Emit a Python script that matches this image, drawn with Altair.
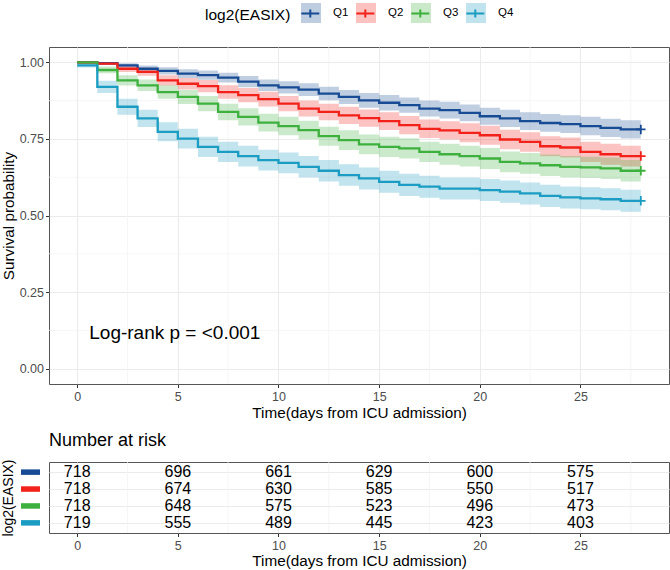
import altair as alt
import pandas as pd

groups = ["Q1", "Q2", "Q3", "Q4"]
colors = ["#174B93", "#F2211A", "#3DB03D", "#1B9CC2"]
days = list(range(29))

surv_q1 = [1.0, 0.997, 0.99, 0.979, 0.972, 0.963, 0.958, 0.95, 0.937, 0.925, 0.918, 0.911, 0.898, 0.887, 0.876,
           0.868, 0.86, 0.849, 0.844, 0.835, 0.824, 0.817, 0.808, 0.802, 0.798, 0.792, 0.786, 0.781, 0.781]
surv_q2 = [1.0, 0.996, 0.979, 0.969, 0.941, 0.93, 0.922, 0.903, 0.893, 0.88, 0.865, 0.849, 0.838, 0.827, 0.818,
           0.808, 0.795, 0.783, 0.778, 0.77, 0.762, 0.748, 0.74, 0.726, 0.722, 0.708, 0.70, 0.694, 0.694]
surv_q3 = [1.0, 0.975, 0.941, 0.925, 0.903, 0.887, 0.865, 0.838, 0.822, 0.803, 0.792, 0.779, 0.759, 0.746, 0.732,
           0.724, 0.719, 0.708, 0.70, 0.694, 0.686, 0.675, 0.67, 0.664, 0.659, 0.657, 0.654, 0.646, 0.646]
surv_q4 = [0.99, 0.92, 0.855, 0.817, 0.773, 0.751, 0.724, 0.708, 0.694, 0.681, 0.672, 0.659, 0.646, 0.632, 0.621,
           0.61, 0.60, 0.594, 0.588, 0.588, 0.583, 0.578, 0.572, 0.564, 0.559, 0.556, 0.553, 0.548, 0.548]

# half-width of the confidence band
ci_q1 = [0.0, 0.004, 0.007, 0.011, 0.012, 0.014, 0.015, 0.016, 0.018, 0.019, 0.020, 0.021, 0.022, 0.023, 0.024,
         0.025, 0.025, 0.026, 0.027, 0.027, 0.028, 0.028, 0.029, 0.029, 0.029, 0.030, 0.030, 0.030, 0.030]
ci_q2 = [0.0, 0.005, 0.011, 0.013, 0.017, 0.019, 0.020, 0.022, 0.023, 0.024, 0.025, 0.026, 0.027, 0.028, 0.028,
         0.029, 0.030, 0.030, 0.030, 0.031, 0.031, 0.032, 0.032, 0.033, 0.033, 0.033, 0.034, 0.034, 0.034]
ci_q3 = [0.0, 0.011, 0.017, 0.019, 0.022, 0.023, 0.025, 0.027, 0.028, 0.029, 0.030, 0.030, 0.031, 0.032, 0.032,
         0.033, 0.033, 0.033, 0.034, 0.034, 0.034, 0.034, 0.034, 0.035, 0.035, 0.035, 0.035, 0.035, 0.035]
ci_q4 = [0.007, 0.020, 0.026, 0.028, 0.031, 0.032, 0.033, 0.033, 0.034, 0.034, 0.034, 0.035, 0.035, 0.035, 0.036,
         0.036, 0.036, 0.036, 0.036, 0.036, 0.036, 0.036, 0.036, 0.036, 0.036, 0.036, 0.036, 0.036, 0.036]

risk_times = [0, 5, 10, 15, 20, 25]
risk_q1 = [718, 696, 661, 629, 600, 575]
risk_q2 = [718, 674, 630, 585, 550, 517]
risk_q3 = [718, 648, 575, 523, 496, 473]
risk_q4 = [719, 555, 489, 445, 423, 403]

major_x = [0, 5, 10, 15, 20, 25]
minor_x = [2.5, 7.5, 12.5, 17.5, 22.5, 27.5]
major_y = [0, 0.25, 0.5, 0.75, 1.0]
minor_y = [0.125, 0.375, 0.625, 0.875]
pval_label = "Log-rank p = <0.001"

FONT = "Liberation Sans"

rows = []
for g, s_arr, c_arr in zip(groups, [surv_q1, surv_q2, surv_q3, surv_q4], [ci_q1, ci_q2, ci_q3, ci_q4]):
    for d, s, c in zip(days, s_arr, c_arr):
        rows.append({"group": g, "day": d, "surv": s, "lower": s - c, "upper": min(1.0, s + c)})
km = pd.DataFrame(rows)

risk_rows = []
for g, arr in zip(groups, [risk_q1, risk_q2, risk_q3, risk_q4]):
    for t, n in zip(risk_times, arr):
        risk_rows.append({"group": g, "time": t, "n": n})
risk = pd.DataFrame(risk_rows)

x_scale = alt.Scale(domain=[-1.4, 29.4], nice=False, zero=False)
y_scale = alt.Scale(domain=[-0.05, 1.05], nice=False, zero=False)
x_axis = alt.Axis(values=major_x, title="Time(days from ICU admission)", labelPadding=3, titlePadding=2,
                  labelFlush=False)
y_axis = alt.Axis(values=major_y, format=".2f", title="Survival probability", labelPadding=2,
                  titleX=-41, titleY=168.5, titleAngle=270, titleAlign="center", titleBaseline="middle")

fill_scale = alt.Scale(domain=groups, range=colors)
# stroke scale takes its domain from the data, so its legend stays separate from the fill legend
stroke_scale = alt.Scale(range=colors)

legend_common = dict(orient="none", legendY=-44, direction="horizontal",
                     labelFontSize=11.5, labelOffset=12, columnPadding=4,
                     symbolSize=324, symbolStrokeWidth=2, padding=0)
fill_legend = alt.Legend(legendX=156, title="log2(EASIX)", titleOrient="left", titleFontSize=15.5,
                         titleFontWeight="normal", titlePadding=10, titleAnchor="middle",
                         titleBaseline="middle", titleColor="black",
                         symbolType="square", symbolOpacity=0.27, symbolStrokeColor="transparent",
                         labelColor="black", zindex=0, **legend_common)
# same entries without a title, shifted by the title's width so the keys sit on the squares
stroke_legend = alt.Legend(legendX=251.3, title=None,
                           symbolType="M-1,0L1,0M0,-0.45L0,0.45", symbolOpacity=1,
                           symbolFillColor="transparent",
                           labelColor="transparent", zindex=1, **legend_common)

grid_x = alt.Chart(pd.DataFrame({"x": minor_x})).mark_rule(color="#F2F2F2", strokeWidth=0.7).encode(
    x=alt.X("x:Q", scale=x_scale, axis=x_axis))
grid_y = alt.Chart(pd.DataFrame({"y": minor_y})).mark_rule(color="#F2F2F2", strokeWidth=0.7).encode(
    y=alt.Y("y:Q", scale=y_scale, axis=y_axis))

base = alt.Chart(km)
band = base.mark_area(interpolate="step-after", opacity=0.27).encode(
    x=alt.X("day:Q", scale=x_scale, axis=x_axis),
    y=alt.Y("lower:Q", scale=y_scale, axis=y_axis),
    y2="upper:Q",
    fill=alt.Fill("group:N", scale=fill_scale, legend=fill_legend),
)
line = base.mark_line(interpolate="step-after", strokeWidth=2.3).encode(
    x=alt.X("day:Q", scale=x_scale, axis=x_axis),
    y=alt.Y("surv:Q", scale=y_scale, axis=y_axis),
    stroke=alt.Stroke("group:N", scale=stroke_scale, legend=stroke_legend),
)
censor = base.transform_filter(alt.datum.day == 28).mark_point(
    shape="M-1,0L1,0M0,-1L0,1", size=90, filled=False, strokeWidth=1.8, opacity=1).encode(
    x=alt.X("day:Q", scale=x_scale, axis=x_axis),
    y=alt.Y("surv:Q", scale=y_scale, axis=y_axis),
    stroke=alt.Stroke("group:N", scale=stroke_scale, legend=stroke_legend),
)
pval = alt.Chart(pd.DataFrame({"label": [pval_label]})).mark_text(
    align="left", baseline="middle", fontSize=19, font=FONT, color="black").encode(
    x=alt.X(datum=0.6, scale=x_scale, axis=x_axis),
    y=alt.Y(datum=0.117, scale=y_scale, axis=y_axis),
    text="label:N",
)

main = alt.layer(grid_x, grid_y, band, line, censor, pval).properties(width=620, height=337)

# risk table
tx_axis = alt.Axis(values=major_x, title="Time(days from ICU admission)", labelPadding=3, titlePadding=1,
                   labelFlush=False)
ty_scale = alt.Scale(type="point", domain=groups, padding=0.6)
ty_axis = alt.Axis(labels=False, ticks=False, grid=True, title="log2(EASIX)", titleFontSize=14,
                   titleX=-41, titleY=35.5, titleAngle=270, titleAlign="center", titleBaseline="middle")

t_grid = alt.Chart(pd.DataFrame({"x": minor_x})).mark_rule(color="#F2F2F2", strokeWidth=0.7).encode(
    x=alt.X("x:Q", scale=x_scale, axis=tx_axis))
t_text = alt.Chart(risk).mark_text(fontSize=16, font=FONT, color="black", baseline="middle").encode(
    x=alt.X("time:Q", scale=x_scale, axis=tx_axis),
    y=alt.Y("group:N", scale=ty_scale, axis=ty_axis),
    text="n:Q",
)
swatch = alt.Chart(pd.DataFrame({"group": groups})).mark_rule(strokeWidth=5.5, strokeCap="butt").encode(
    x=alt.value(-28), x2=alt.value(-9),
    y=alt.Y("group:N", scale=ty_scale, axis=ty_axis),
    color=alt.Color("group:N", scale=alt.Scale(domain=groups, range=colors), legend=None),
)
table = alt.layer(t_grid, t_text, swatch).properties(
    width=620, height=71,
    title=alt.Title("Number at risk", anchor="start", frame="group", fontSize=18, fontWeight="normal",
                    font=FONT, color="black", offset=9),
)

chart = alt.vconcat(main, table, spacing=10).properties(
    padding={"left": 0, "top": 3, "right": 0, "bottom": 0}
).configure(font=FONT).configure_view(
    stroke="#555555", strokeWidth=1
).configure_axis(
    gridColor="#EBEBEB", gridWidth=1.1, tickColor="#333333", tickSize=3.5, tickWidth=1,
    labelColor="#4D4D4D", labelFontSize=12.5, titleColor="black", titleFontSize=15.3,
    titleFontWeight="normal", domain=False, labelFont=FONT, titleFont=FONT
)

chart.save("out.html", embed_options={"renderer": "svg", "actions": False})
